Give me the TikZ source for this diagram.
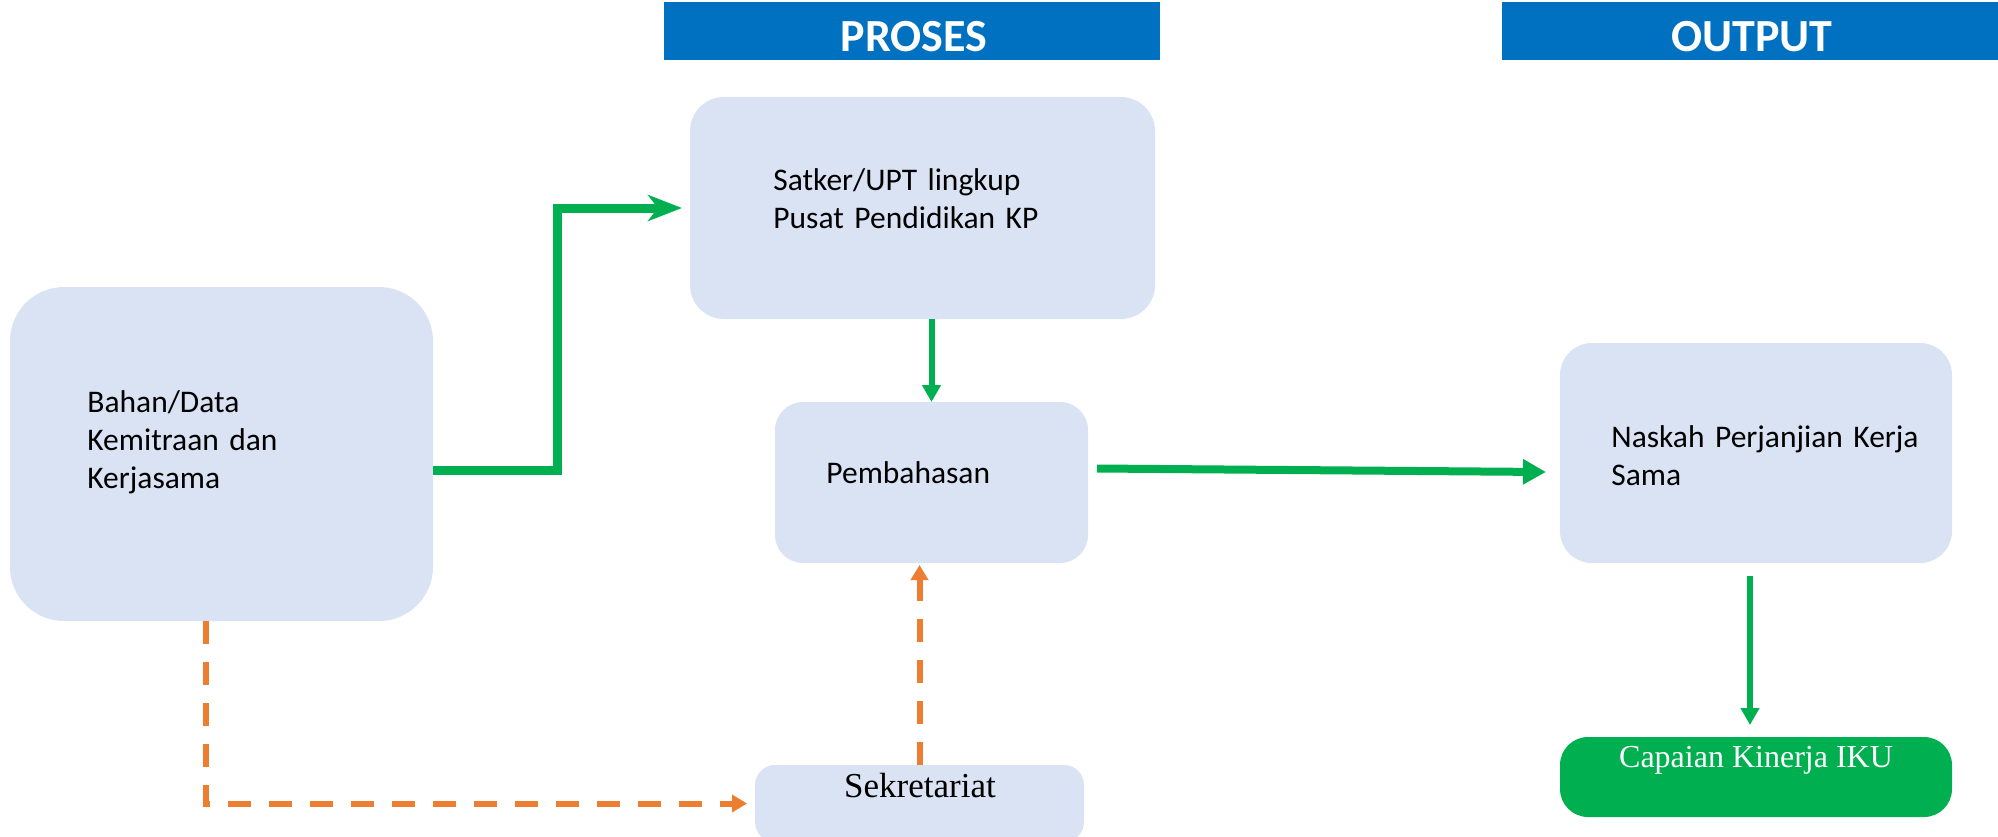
\documentclass[tikz,border=0pt]{standalone}
\usepackage{fontspec}
\usetikzlibrary{arrows.meta}
\newfontfamily\calibri{Carlito}
\newfontfamily\cambria{Liberation Serif}
\definecolor{boxblue}{HTML}{DAE3F3}
\definecolor{hdrblue}{HTML}{0070C0}
\definecolor{okgreen}{HTML}{00B050}
\definecolor{orangeline}{HTML}{ED7D31}
\begin{document}
\begin{tikzpicture}[x=0.5pt, y=-0.5pt,
    box/.style={fill=boxblue, inner sep=0pt, outer sep=0pt},
    hdr/.style={fill=hdrblue, inner sep=0pt, outer sep=0pt, minimum width=248pt, minimum height=29pt},
    title/.style={anchor=base, inner sep=0pt, text=white, font=\calibri\bfseries\fontsize{23}{27}\selectfont},
    txt/.style={anchor=base west, inner sep=0pt, align=left, text width=#1, font=\calibri\fontsize{15.75}{19}\selectfont},
    serif/.style={anchor=base, inner sep=0pt, font=\cambria\fontsize{#1}{20}\selectfont},
    gthick/.style={okgreen, line width=4.5pt, -{Stealth[length=17pt, width=13pt, inset=5pt]}, shorten >=4pt},
    gmid/.style={okgreen, line width=3pt, -{Triangle[length=8.5pt, width=9pt]}},
    gwide/.style={okgreen, line width=4pt, -{Triangle[length=11.5pt, width=12pt]}},
    odash/.style={orangeline, line width=3pt, dash pattern=on 11.5pt off 9pt, -{Triangle[length=7.5pt, width=8.5pt]}}]
    \useasboundingbox (0,0) rectangle (1998,836);
    \node[hdr] (proses) at (912,31) {};
    \node[hdr] (output) at (1750,31) {};
    \node[title] (prosestxt) at (914,51) {PROSES};
    \node[title] (outputtxt) at (1752,51) {OUTPUT};
    \node[box, minimum width=211.5pt, minimum height=167pt, rounded corners=27pt] (bahan) at (221.5,454) {};
    \node[box, minimum width=232.5pt, minimum height=111pt, rounded corners=17pt] (satker) at (922.5,208) {};
    \node[box, minimum width=156.5pt, minimum height=80.5pt, rounded corners=14pt] (pembahasan) at (931.5,482.5) {};
    \node[box, minimum width=196pt, minimum height=110pt, rounded corners=16pt] (naskah) at (1756,453) {};
    \node[box, minimum width=164.5pt, minimum height=38.5pt, rounded corners=10pt] (sekretariat) at (919.5,803.5) {};
    \node[box, fill=okgreen, minimum width=196pt, minimum height=40pt, rounded corners=14pt] (capaian) at (1756,777) {};
    \node[txt=150pt] (bahantxt) at (87,412) {Bahan/Data\\Kemitraan dan\\Kerjasama};
    \node[txt=170pt] (satkertxt) at (773,190) {Satker/UPT lingkup\\Pusat Pendidikan KP};
    \node[txt=100pt] (pembtxt) at (826,483) {Pembahasan};
    \node[txt=170pt] (naskahtxt) at (1611,447) {Naskah Perjanjian Kerja\\Sama};
    \node[serif=17.5] (sektxt) at (920,797) {Sekretariat};
    \node[serif=16, text=white] (capaiantxt) at (1756,767) {Capaian Kinerja IKU};
    \draw[gthick] ([yshift=-8pt]bahan.east) -- ++(124,0) |- (satker.west);
    \draw[gmid] (satker.south -| pembahasan.north) -- (pembahasan.north);
    \draw[gwide] ([xshift=4.5pt, yshift=7pt]pembahasan.east) -- ([xshift=-7pt, yshift=-9.5pt]naskah.west);
    \draw[gmid, shorten <=6.5pt, shorten >=6pt] ([xshift=-3pt]naskah.south) -- ([xshift=-3pt]capaian.north);
    \draw[odash, shorten >=4pt] ([xshift=-8pt]bahan.south) |- (sekretariat.west);
    \draw[odash, shorten >=1pt] (sekretariat.north) -- (sekretariat.north |- pembahasan.south);
\end{tikzpicture}
\end{document}
